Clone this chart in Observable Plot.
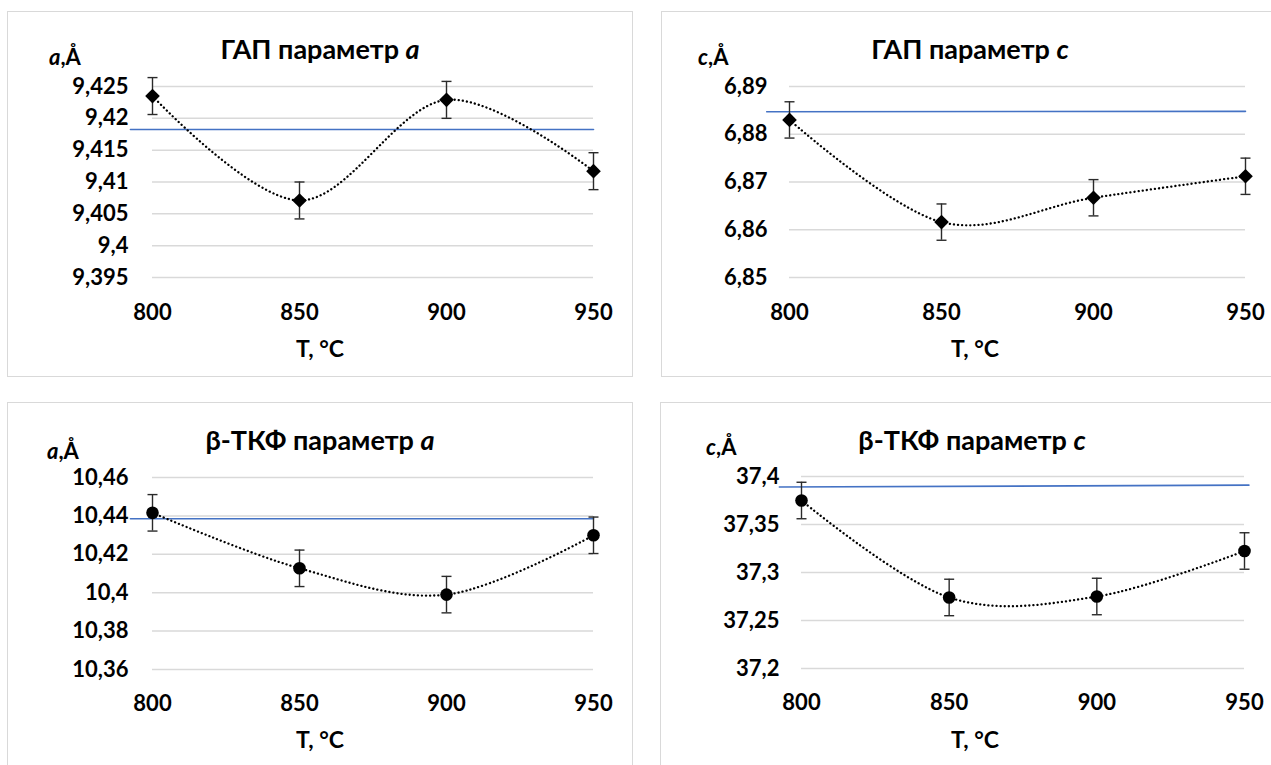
<!DOCTYPE html>
<html>
<head>
<meta charset="utf-8">
<script src="https://cdn.jsdelivr.net/npm/d3@7"></script>
<script src="https://cdn.jsdelivr.net/npm/@observablehq/plot@0.6"></script>
<style>
  html, body { margin: 0; padding: 0; background: #fff; }
  body { position: relative; width: 1271px; height: 765px; overflow: hidden; font-family: Lato, "Open Sans", "DejaVu Sans", sans-serif; color: #000; }
  .panel { position: absolute; border: 1px solid #d9d9d9; box-sizing: border-box; background: #fff; }
  .lbl { position: absolute; font-weight: bold; white-space: nowrap; line-height: 1; }
  .c { transform: translate(-50%, -50%); }
  .l { transform: translate(0, -50%); }
  .title { font-size: 27px; }
  .xt { font-size: 23px; }
  .yt { font-size: 22px; }
  .plot { position: absolute; }
</style>
</head>
<body>
<script>
// ---- data ----
const T = [800, 850, 900, 950];

const hapA = [9.4235, 9.4071, 9.4229, 9.4117];
const hapAErr = [0.0029, 0.0029, 0.0029, 0.0029];
const hapARef = [9.41825, 9.41825];
const hapATicks = [9.395, 9.4, 9.405, 9.41, 9.415, 9.42, 9.425];

const hapC = [6.8830, 6.8616, 6.8667, 6.8712];
const hapCErr = [0.0038, 0.0038, 0.0038, 0.0038];
const hapCRef = [6.8847, 6.8848];
const hapCTicks = [6.85, 6.86, 6.87, 6.88, 6.89];

const tcpA = [10.4416, 10.4127, 10.3990, 10.4299];
const tcpAErr = [0.0095, 0.0095, 0.0095, 0.0095];
const tcpARef = [10.4385, 10.4385];
const tcpATicks = [10.36, 10.38, 10.4, 10.42, 10.44, 10.46];

const tcpC = [37.375, 37.274, 37.275, 37.3224];
const tcpCErr = [0.019, 0.019, 0.019, 0.019];
const tcpCRef = [37.389, 37.391];
const tcpCTicks = [37.2, 37.25, 37.3, 37.35, 37.4];

const refT = [792.5, 950];
const refT4 = [792.5, 951.5];

const titles = ["ГАП параметр ", "ГАП параметр ", "β-ТКФ параметр ", "β-ТКФ параметр "];
const titleVars = ["a", "c", "a", "c"];
const xTitle = "T, °C";
const yUnit = ",Å";

// ---- layout ----
const panels = [
  { box: [7, 11, 626, 366], svg: [7, 11, 626, 330], m: [75, 40, 64, 145], tpY: 24, tpX: 27,
    title: [320, 48], yl: [49, 57], xt: [320, 348],
    values: hapA, err: hapAErr, ref: hapARef, rt: refT, ticks: hapATicks, symbol: "diamond2" },
  { box: [661, 11, 620, 366], svg: [661, 11, 610, 330], m: [75, 26, 64, 128], tpY: 22, tpX: 27,
    title: [970, 48], yl: [698, 57], xt: [975, 348],
    values: hapC, err: hapCErr, ref: hapCRef, rt: refT, ticks: hapCTicks, symbol: "diamond2" },
  { box: [7, 402, 626, 380], svg: [7, 402, 626, 330], m: [75, 40, 63, 145], tpY: 24, tpX: 26,
    title: [320, 439], yl: [47, 451], xt: [320, 739],
    values: tcpA, err: tcpAErr, ref: tcpARef, rt: refT, ticks: tcpATicks, symbol: "circle" },
  { box: [660, 402, 620, 380], svg: [660, 402, 611, 330], m: [74, 27, 64, 141], tpY: 22, tpX: 26,
    title: [972, 439], yl: [706, 447], xt: [975, 739],
    values: tcpC, err: tcpCErr, ref: tcpCRef, rt: refT4, ticks: tcpCTicks, symbol: "circle" }
];

const capSymbol = {
  draw(ctx, size) {
    const r = Math.sqrt(size / Math.PI);
    ctx.moveTo(-r, 0);
    ctx.lineTo(r, 0);
  }
};
const fmt = d => String(d).replace(".", ",");
const FONT = 'Lato, "Open Sans", "DejaVu Sans", sans-serif';

panels.forEach((p, i) => {
  const box = document.createElement("div");
  box.className = "panel";
  Object.assign(box.style, { left: p.box[0] + "px", top: p.box[1] + "px", width: p.box[2] + "px", height: p.box[3] + "px" });
  document.body.appendChild(box);

  const rows = T.map((t, k) => ({ T: t, v: p.values[k], lo: p.values[k] - p.err[k], hi: p.values[k] + p.err[k] }));
  const ref = p.rt.map((t, k) => ({ T: t, v: p.ref[k] }));
  const [mt, mr, mb, ml] = p.m;

  const chart = Plot.plot({
    width: p.svg[2],
    height: p.svg[3],
    marginTop: mt, marginRight: mr, marginBottom: mb, marginLeft: ml,
    style: { fontFamily: FONT, fontSize: "22px", fontWeight: "bold", color: "#000", background: "transparent", overflow: "visible" },
    x: { domain: [800, 950] },
    y: { domain: [p.ticks[0], p.ticks[p.ticks.length - 1]] },
    marks: [
      Plot.gridY(p.ticks, { stroke: "#d9d9d9", strokeOpacity: 1, strokeWidth: 1.5 }),
      Plot.axisY(p.ticks, { tickSize: 0, tickPadding: p.tpY, tickFormat: fmt, label: null, fill: "#000" }),
      Plot.axisX(T, { tickSize: 0, tickPadding: p.tpX, tickFormat: d => String(d), label: null, fill: "#000" }),
      Plot.line(ref, { x: "T", y: "v", stroke: "#4472C4", strokeWidth: 1.6 }),
      Plot.line(rows, { x: "T", y: "v", curve: "cardinal", stroke: "#000", strokeWidth: 2.3, strokeDasharray: "0.1,4", strokeLinecap: "round" }),
      Plot.ruleX(rows, { x: "T", y1: "lo", y2: "hi", stroke: "#2a2a2a", strokeWidth: 1.4 }),
      Plot.dot(rows, { x: "T", y: "lo", symbol: capSymbol, r: 5, stroke: "#2a2a2a", strokeWidth: 1.4, fill: "none" }),
      Plot.dot(rows, { x: "T", y: "hi", symbol: capSymbol, r: 5, stroke: "#2a2a2a", strokeWidth: 1.4, fill: "none" }),
      Plot.dot(rows, { x: "T", y: "v", symbol: p.symbol, r: p.symbol === "circle" ? 6.3 : 6.6, fill: "#000", stroke: "none" })
    ]
  });
  chart.classList.add("plot");
  chart.style.left = p.svg[0] + "px";
  chart.style.top = p.svg[1] + "px";
  document.body.appendChild(chart);

  const title = document.createElement("div");
  title.className = "lbl c title";
  title.style.left = p.title[0] + "px";
  title.style.top = p.title[1] + "px";
  title.append(titles[i]);
  const ti = document.createElement("i"); ti.textContent = titleVars[i]; title.appendChild(ti);
  document.body.appendChild(title);

  const yl = document.createElement("div");
  yl.className = "lbl l yt";
  yl.style.left = p.yl[0] + "px";
  yl.style.top = p.yl[1] + "px";
  const yi = document.createElement("i"); yi.textContent = titleVars[i]; yl.appendChild(yi);
  yl.append(yUnit);
  document.body.appendChild(yl);

  const xt = document.createElement("div");
  xt.className = "lbl c xt";
  xt.style.left = p.xt[0] + "px";
  xt.style.top = p.xt[1] + "px";
  xt.textContent = xTitle;
  document.body.appendChild(xt);
});
</script>
</body>
</html>
